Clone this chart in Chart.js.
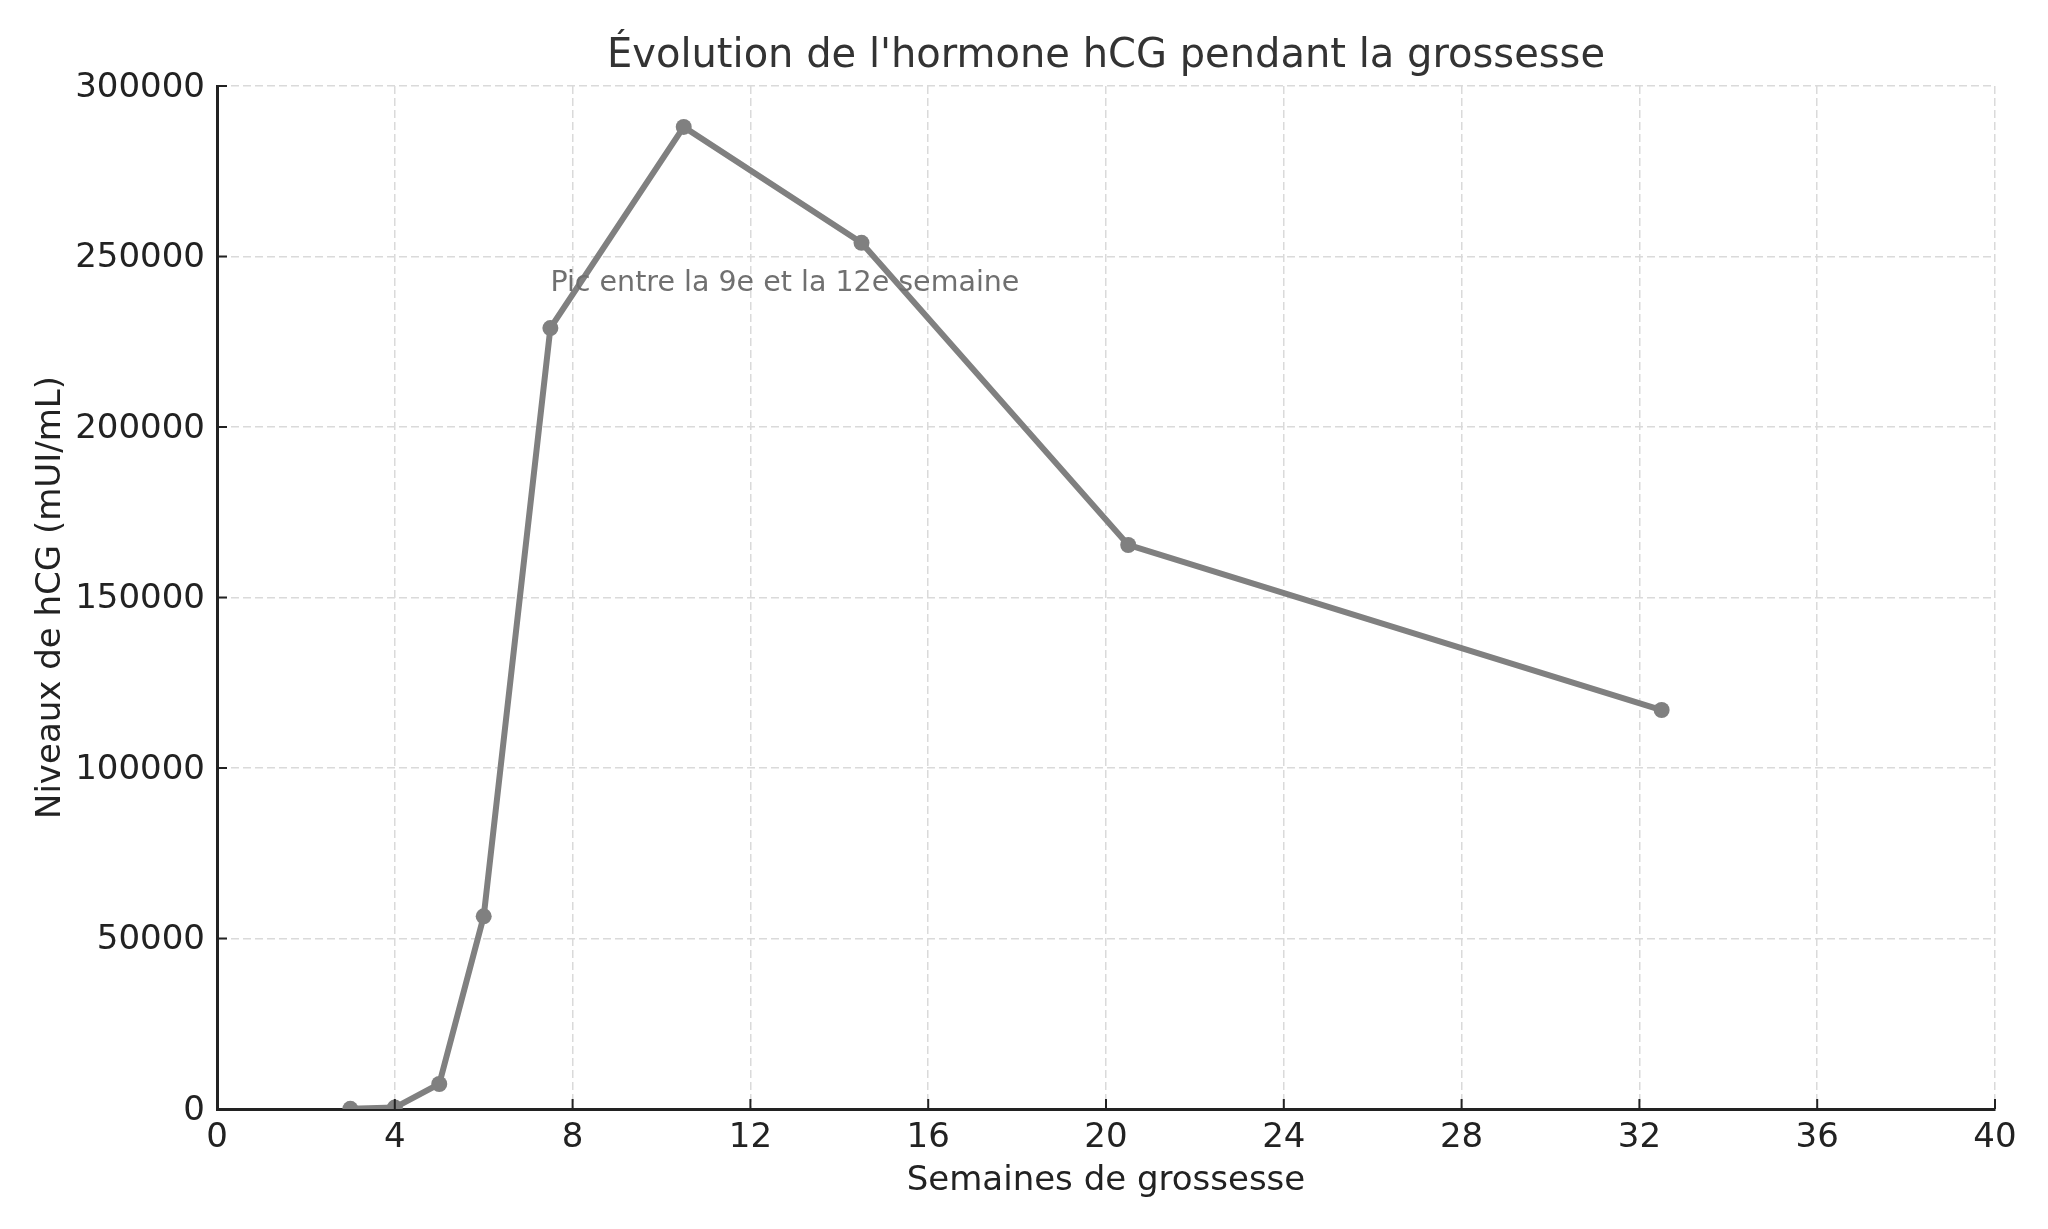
<!DOCTYPE html>
<html lang="fr">
<head>
<meta charset="utf-8">
<title>Évolution de l'hormone hCG pendant la grossesse</title>
<script src="https://cdn.jsdelivr.net/npm/chart.js@4/dist/chart.umd.min.js"></script>
<style>
  html, body { margin: 0; padding: 0; background: #fff; }
  #wrap { width: 2048px; height: 1229px; }
</style>
</head>
<body>
<div id="wrap"><canvas id="chart" width="2048" height="1229"></canvas></div>
<script>
const weeks = [3, 4, 5, 6, 7.5, 10.5, 14.5, 20.5, 32.5];
const hcgLevels = [50, 426, 7340, 56500, 229000, 288000, 254000, 165400, 117000];
const xTickValues = [0, 4, 8, 12, 16, 20, 24, 28, 32, 36, 40];
const yTickValues = [0, 50000, 100000, 150000, 200000, 250000, 300000];
const chartTitle = "Évolution de l'hormone hCG pendant la grossesse";
const noteText = "Pic entre la 9e et la 12e semaine";
const noteWeek = 7.5;
const noteLevel = 240000;

const FONT = "'DejaVu Sans', 'Liberation Sans', sans-serif";
const INK = "#222222";
const LINE = "#808080";
const GRID = "#dadada";

// matplotlib-style ticks pointing inward
const innerTicks = {
  id: "innerTicks",
  afterDraw(chart) {
    const { ctx, chartArea, scales } = chart;
    ctx.save();
    ctx.strokeStyle = INK;
    ctx.lineWidth = 2;
    scales.x.ticks.forEach((t) => {
      const px = scales.x.getPixelForValue(t.value);
      ctx.beginPath();
      ctx.moveTo(px, chartArea.bottom);
      ctx.lineTo(px, chartArea.bottom - 10);
      ctx.stroke();
    });
    scales.y.ticks.forEach((t) => {
      const py = scales.y.getPixelForValue(t.value);
      ctx.beginPath();
      ctx.moveTo(chartArea.left, py);
      ctx.lineTo(chartArea.left + 10, py);
      ctx.stroke();
    });
    ctx.restore();
  },
};

// title centred over the plot area, like matplotlib does
const plotTitle = {
  id: "plotTitle",
  afterDraw(chart) {
    const { ctx, chartArea } = chart;
    ctx.save();
    ctx.font = "40px " + FONT;
    ctx.fillStyle = "#333333";
    ctx.textAlign = "center";
    ctx.textBaseline = "alphabetic";
    ctx.fillText(chartTitle, (chartArea.left + chartArea.right) / 2, 67);
    ctx.restore();
  },
};

const peakNote = {
  id: "peakNote",
  afterDatasetsDraw(chart) {
    const { ctx, scales } = chart;
    ctx.save();
    ctx.font = "28.5px " + FONT;
    ctx.fillStyle = "#707070";
    ctx.textAlign = "left";
    ctx.textBaseline = "alphabetic";
    ctx.fillText(noteText, scales.x.getPixelForValue(noteWeek), scales.y.getPixelForValue(noteLevel));
    ctx.restore();
  },
};

new Chart(document.getElementById("chart"), {
  type: "line",
  data: {
    datasets: [
      {
        label: "hCG",
        data: weeks.map((w, i) => ({ x: w, y: hcgLevels[i] })),
        borderColor: LINE,
        backgroundColor: LINE,
        pointBackgroundColor: LINE,
        pointBorderColor: LINE,
        pointRadius: 8,
        pointBorderWidth: 0,
        borderWidth: 6,
        tension: 0,
        clip: 0,
      },
    ],
  },
  options: {
    responsive: false,
    animation: false,
    devicePixelRatio: 1,
    layout: { padding: { left: 0, right: 53, top: 86, bottom: 0 } },
    plugins: {
      legend: { display: false },
      tooltip: { enabled: false },
      title: { display: false },
    },
    scales: {
      x: {
        type: "linear",
        min: 0,
        max: 40,
        afterBuildTicks: (s) => { s.ticks = xTickValues.map((v) => ({ value: v })); },
        afterFit: (s) => { s.height = 120; },
        ticks: {
          color: INK,
          font: { family: FONT, size: 34 },
          padding: 9,
          callback: (v) => String(v),
        },
        grid: { color: GRID, lineWidth: 1.5, drawTicks: false },
        border: { display: true, color: INK, width: 3, dash: [8, 4] },
        title: {
          display: true,
          text: "Semaines de grossesse",
          color: INK,
          font: { family: FONT, size: 34, lineHeight: 1.2 },
          padding: { top: 0, bottom: 27 },
        },
      },
      y: {
        type: "linear",
        min: 0,
        max: 300000,
        afterBuildTicks: (s) => { s.ticks = yTickValues.map((v) => ({ value: v })); },
        afterFit: (s) => { s.width = 217; },
        ticks: {
          color: INK,
          font: { family: FONT, size: 34 },
          padding: 12,
          labelOffset: 2,
          callback: (v) => String(v),
        },
        grid: { color: GRID, lineWidth: 1.5, drawTicks: false },
        border: { display: true, color: INK, width: 3, dash: [8, 4] },
        title: {
          display: true,
          text: "Niveaux de hCG (mUI/mL)",
          color: INK,
          font: { family: FONT, size: 34, lineHeight: 1.2 },
          padding: { top: 31, bottom: 0 },
        },
      },
    },
  },
  plugins: [innerTicks, plotTitle, peakNote],
});
</script>
</body>
</html>
